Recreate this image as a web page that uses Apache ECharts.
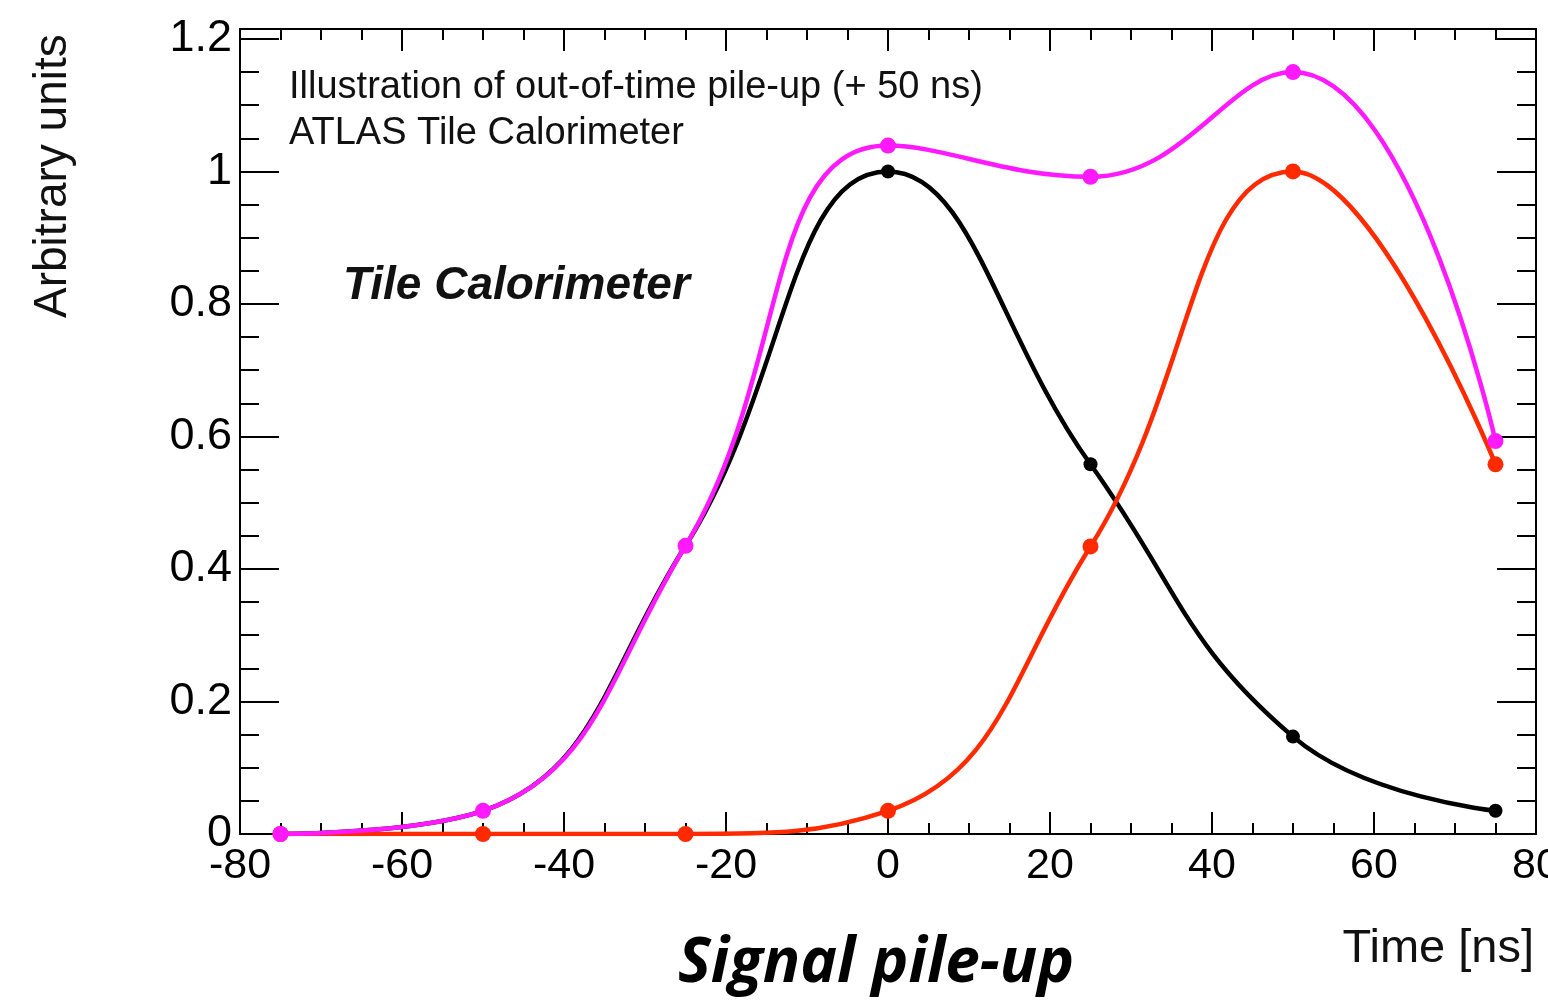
<!DOCTYPE html>
<html>
<head>
<meta charset="utf-8">
<script src="https://cdn.jsdelivr.net/npm/echarts@6/dist/echarts.min.js"></script>
<style>
  html, body { margin: 0; padding: 0; background: #fff; }
  #chart { width: 1548px; height: 1007px; }
</style>
</head>
<body>
<div id="chart"></div>
<script>
// sample times (ns)
const times = [-75, -50, -25, 0, 25, 50, 75]
// in-time signal
const signalMain = [0, 0.035, 0.435, 1.0, 0.558, 0.147, 0.035]
// out-of-time signal (+50 ns)
const signalLate = [0, 0, 0, 0.035, 0.434, 1.0, 0.558]
// sum of both
const signalSum = [0, 0.035, 0.435, 1.039, 0.992, 1.15, 0.593]

const xTicks = { min: -80, max: 80, step: 20 }
const yTicks = { min: 0, max: 1.215, step: 0.2 }

const font = 'Liberation Sans, Arial, sans-serif'
const pairs = (ys) => times.map((t, i) => [t, ys[i]])

const chart = echarts.init(document.getElementById('chart'))

const tickStyle = (len, minorLen) => ({
  axisLine: { show: true, onZero: false, lineStyle: { color: '#000', width: 2 } },
  axisTick: { show: true, inside: true, length: len, lineStyle: { color: '#000', width: 2 } },
  minorTick: { show: true, splitNumber: 4, length: minorLen, lineStyle: { color: '#000', width: 2 } },
  splitLine: { show: false },
})

const option = {
  animation: false,
  backgroundColor: '#fff',
  grid: { left: 240, right: 12, top: 29, bottom: 173, containLabel: false, outerBoundsMode: 'none' },
  xAxis: [
    {
      type: 'value', position: 'bottom',
      min: xTicks.min, max: xTicks.max, interval: xTicks.step,
      ...tickStyle(22, 11),
      axisLabel: { color: '#000', fontSize: 43, fontFamily: font, margin: 11 },
    },
    {
      type: 'value', position: 'top',
      min: xTicks.min, max: xTicks.max, interval: xTicks.step,
      ...tickStyle(22, 11),
      axisLabel: { show: false },
    },
  ],
  yAxis: [
    {
      type: 'value', position: 'left',
      min: yTicks.min, max: yTicks.max, interval: yTicks.step,
      ...tickStyle(39, 19),
      axisLabel: {
        color: '#000', fontSize: 45, fontFamily: font, margin: 8,
        formatter: (v) => (Math.abs(v * 5 - Math.round(v * 5)) < 1e-6 ? String(+v.toFixed(1)) : ''),
      },
    },
    {
      type: 'value', position: 'right',
      min: yTicks.min, max: yTicks.max, interval: yTicks.step,
      ...tickStyle(39, 19),
      axisLabel: { show: false },
    },
  ],
  series: [
    {
      name: 'signal', type: 'line', smooth: 0.45, data: pairs(signalMain),
      symbol: 'circle', symbolSize: 14,
      lineStyle: { color: '#000', width: 4.5 }, itemStyle: { color: '#000' },
    },
    {
      name: 'pile-up', type: 'line', smooth: 0.45, data: pairs(signalLate),
      symbol: 'circle', symbolSize: 16,
      lineStyle: { color: '#ff2a00', width: 4.5 }, itemStyle: { color: '#ff2a00' },
    },
    {
      name: 'sum', type: 'line', smooth: 0.45, data: pairs(signalSum),
      symbol: 'circle', symbolSize: 16,
      lineStyle: { color: '#ff19ff', width: 4.5 }, itemStyle: { color: '#ff19ff' },
    },
  ],
  graphic: [
    {
      type: 'text', left: 289, top: 69,
      style: { text: 'Illustration of out-of-time pile-up (+ 50 ns)', font: '38px ' + font, fill: '#111' },
    },
    {
      type: 'text', left: 289, top: 115,
      style: { text: 'ATLAS Tile Calorimeter', font: '38px ' + font, fill: '#111' },
    },
    {
      type: 'text', left: 343, top: 263,
      style: { text: 'Tile Calorimeter', font: 'italic bold 46px ' + font, fill: '#111' },
    },
    {
      type: 'text', right: 14, top: 926,
      style: { text: 'Time [ns]', font: '47px ' + font, fill: '#111' },
    },
    {
      type: 'text', left: 678, top: 933,
      style: { text: 'Signal pile-up', font: 'italic bold 62px "Open Sans", sans-serif', fill: '#000' },
    },
    {
      type: 'text', x: 30, y: 318, rotation: Math.PI / 2,
      style: { text: 'Arbitrary units', font: '46px ' + font, fill: '#111' },
    },
  ],
}

chart.setOption(option)
</script>
</body>
</html>
